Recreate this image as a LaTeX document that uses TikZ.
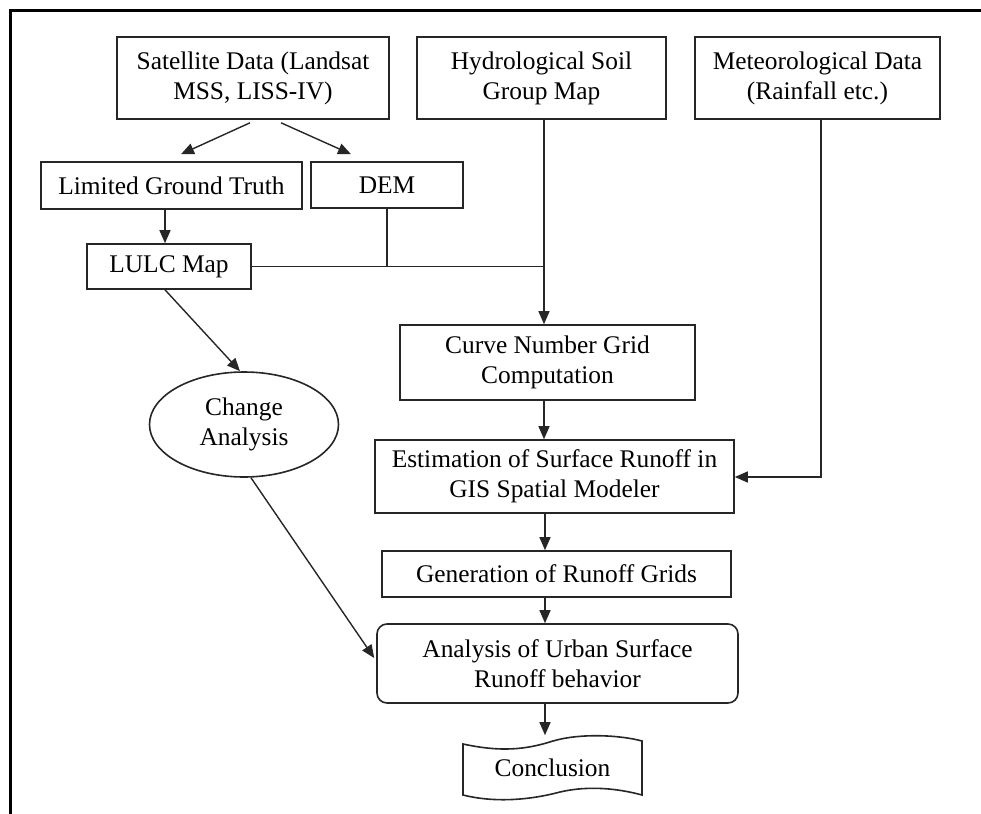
\documentclass[tikz,border=0pt]{standalone}
\usepackage{fontspec}
\setmainfont{Liberation Serif}
\usetikzlibrary{arrows.meta,calc,shapes.geometric}
\begin{document}
\begin{tikzpicture}[x=0.5pt,y=-0.5pt,
  outline/.style={draw=black!85,line width=0.8pt},
  box/.style={outline,align=center,inner sep=0pt,font=\fontsize{12.7}{15}\selectfont},
  arr/.style={draw=black!85,line width=0.7pt,-{Triangle[length=6.5pt,width=5.5pt]}},
  ln/.style={draw=black!85,line width=0.7pt}]
\useasboundingbox (0,0) rectangle (981,814);
\draw[line width=1.5pt] (10.5,814) -- (10.5,10.5) -- (981,10.5);

\node[box,minimum width=136pt,minimum height=41pt] (sat) at (253,78) {Satellite Data (Landsat\\MSS, LISS-IV)};
\node[box,minimum width=124.5pt,minimum height=41pt] (hyd) at (541.5,78) {Hydrological Soil\\Group Map};
\node[box,minimum width=122.5pt,minimum height=41pt] (met) at (817.5,78) {Meteorological Data\\(Rainfall etc.)};
\node[box,minimum width=130.5pt,minimum height=23.5pt] (lgt) at (171.5,185.5) {Limited Ground Truth};
\node[box,minimum width=76pt,minimum height=23pt] (dem) at (387,185) {DEM};
\node[box,minimum width=82pt,minimum height=22.5pt] (lulc) at (169,266.5) {LULC Map};
\node[box,minimum width=147.5pt,minimum height=37.5pt] (cn) at (547.5,362.5) {Curve Number Grid\\Computation};
\node[box,ellipse,minimum width=94.5pt,minimum height=52.5pt] (chg) at (244,424.5) {Change\\Analysis};
\node[box,minimum width=179.5pt,minimum height=36.5pt] (est) at (554.5,476.5) {Estimation of Surface Runoff in\\GIS Spatial Modeler};
\node[box,minimum width=174.5pt,minimum height=23pt] (gen) at (556.5,574) {Generation of Runoff Grids};
\node[box,rounded corners=5pt,minimum width=180.5pt,minimum height=39.5pt] (ana) at (557.5,663.5) {Analysis of Urban Surface\\Runoff behavior};
\node[box,draw=none,minimum width=89.5pt,minimum height=32pt] (conc) at (552.5,768) {Conclusion};
\draw[outline] (463,744) .. controls (500,752) and (525,750) .. (553,741) .. controls (580,733) and (620,735) .. (642,741) -- (642,795) .. controls (620,789) and (590,785) .. (560,792) .. controls (530,800) and (495,803) .. (463,795) -- cycle;

\coordinate (j) at (544,266.5);
\coordinate (m) at (821,477);
\coordinate (col) at (545,0);

\draw[arr] ($(sat.south)+(-3,3)$) -- ($(lgt.north)+(9.5,-7)$);
\draw[arr] ($(sat.south)+(28,3)$) -- ($(dem.north)+(-36,-7)$);
\draw[arr] ($(lgt.south)+(-6.5,0)$) -- ($(lulc.north)+(-4,0)$);
\draw[ln] (dem.south) -- (dem.south |- j);
\draw[ln] (lulc.east) -- (j);
\draw[arr] (hyd.south -| j) -- (cn.north -| j);
\draw[arr] (met.south -| m) -- (m) -- (est.east |- m);
\draw[arr] (cn.south -| j) -- (est.north -| j);
\draw[arr] (est.south -| col) -- (gen.north -| col);
\draw[arr] (gen.south -| col) -- (ana.north -| col);
\draw[arr] (ana.south -| col) -- (conc.north -| col);
\draw[arr] ($(lulc.south)+(-4,0)$) -- ($(chg.north)+(-4,0)$);
\draw[arr] ($(chg.south)+(7,0)$) -- ($(ana.west)+(-2,-5.5)$);
\end{tikzpicture}
\end{document}
